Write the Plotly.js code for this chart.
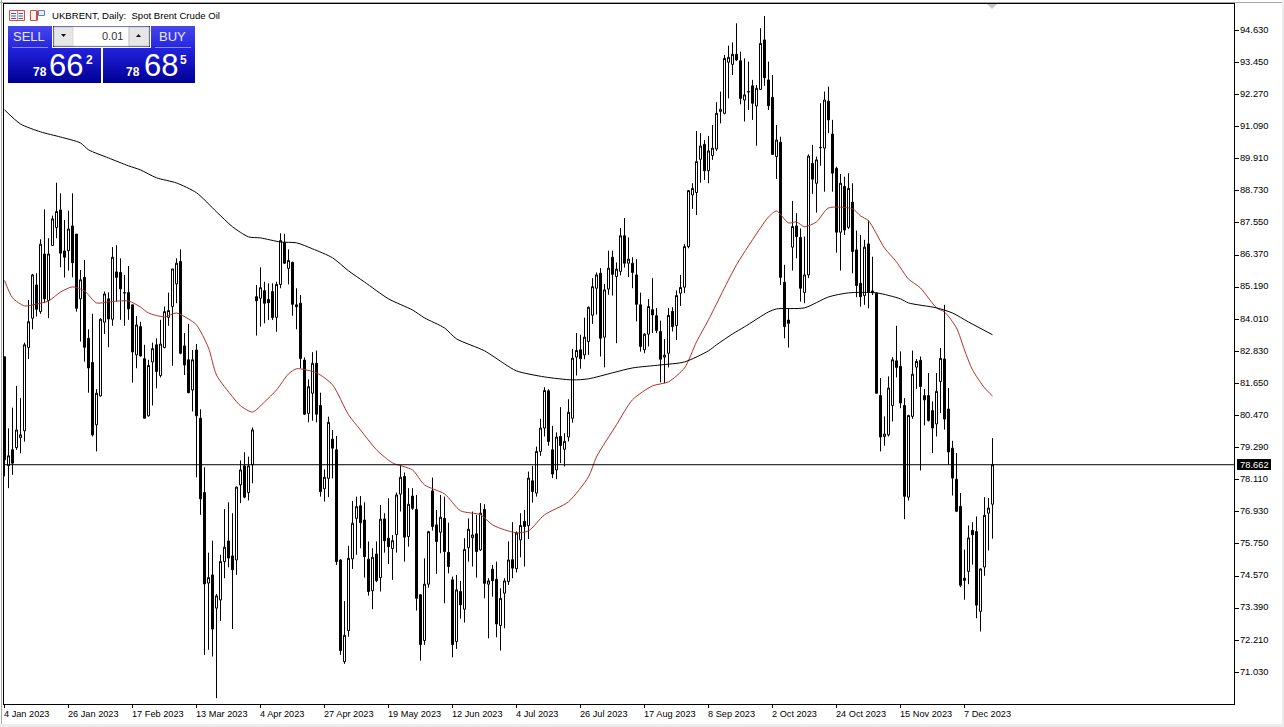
<!DOCTYPE html>
<html>
<head>
<meta charset="utf-8">
<script src="https://cdn.plot.ly/plotly-3.0.1.min.js"></script>
<style>html,body{margin:0;padding:0;background:#fff;overflow:hidden}#c{width:1284px;height:727px}</style>
</head>
<body>
<div id="c"></div>
<script>
const opens=[82.63,78.63,79.21,79.29,79.66,79.91,82.97,84.05,85.27,84.29,86.41,84.70,86.72,87.38,88.03,86.52,86.53,87.44,87.14,84.76,85.55,83.31,82.42,80.13,81.19,83.90,84.76,84.01,85.75,85.73,84.99,84.99,84.54,82.70,83.74,82.56,80.46,82.44,83.07,81.94,82.97,84.08,84.48,85.31,86.13,83.03,82.52,81.41,82.88,80.37,77.64,74.31,74.61,73.39,73.69,75.10,75.86,75.31,75.16,77.92,78.62,77.64,78.66,
84.84,84.78,85.06,84.74,85.03,84.08,85.29,86.83,85.88,86.10,84.54,84.60,82.51,80.55,81.29,82.39,80.84,77.78,78.16,79.60,79.21,75.16,71.42,72.56,75.20,76.69,77.15,76.63,75.19,74.03,75.38,74.51,76.67,75.96,75.58,76.10,77.58,78.23,76.02,77.51,77.02,73.88,72.20,74.27,77.70,76.45,76.18,76.69,75.44,74.43,72.16,74.00,73.35,75.61,75.98,76.12,75.53,77.02,74.27,74.82,74.45,72.75,73.94,74.37,
75.17,74.84,75.90,76.58,76.42,78.07,77.62,79.15,80.01,81.38,79.21,78.47,79.70,79.23,79.68,80.37,82.62,82.89,82.70,83.19,84.16,85.15,85.70,83.35,85.12,86.29,85.58,85.77,87.08,86.07,86.07,85.64,84.54,82.89,83.46,84.36,84.14,83.56,82.62,82.76,84.30,83.78,84.97,85.19,
86.68,88.58,88.67,89.89,90.44,89.47,90.03,90.27,91.65,91.58,93.46,93.38,93.75,93.51,92.07,92.38,92.59,91.85,92.46,94.28,92.81,92.17,89.99,90.52,85.37,83.98,86.66,87.44,87.02,84.99,85.64,89.74,89.01,90.33,90.30,92.03,90.82,89.56,87.21,88.89,87.39,88.31,86.56,85.33,84.88,86.78,85.05,
84.97,81.21,79.70,79.76,80.84,82.48,82.28,80.84,77.47,80.44,82.25,82.50,81.20,81.21,80.65,80.16,81.72,82.55,80.71,79.27,78.13,77.13,74.49,74.74,76.25,76.21,73.27,74.90,76.88,77.21];
const highs=[82.63,80.00,80.76,81.56,81.11,83.15,84.72,85.68,85.70,86.95,88.05,86.99,87.82,89.03,88.64,87.66,88.00,88.64,87.14,85.82,86.19,83.64,84.21,81.44,84.05,85.03,85.00,86.66,86.73,86.25,85.64,85.97,84.54,84.13,83.92,83.07,82.52,83.15,83.31,83.99,84.48,84.99,85.86,86.25,86.58,83.50,83.84,82.88,83.10,80.70,78.57,75.43,75.87,73.91,75.35,77.03,77.28,76.88,77.86,78.82,79.12,78.96,80.03,
85.27,85.92,85.39,85.33,85.33,85.39,87.17,87.15,86.58,86.13,85.15,84.90,82.61,81.80,82.80,82.86,81.31,78.49,80.43,79.94,79.72,75.19,73.65,75.68,77.33,77.49,77.51,77.28,75.84,75.59,75.84,77.18,76.88,77.43,76.08,77.64,78.65,78.38,77.80,77.80,77.55,73.91,75.22,76.23,78.19,77.00,77.55,77.49,76.53,74.55,74.61,74.39,75.96,76.69,76.94,76.82,77.25,77.21,74.49,74.98,75.10,74.12,74.49,75.84,
76.55,76.21,76.88,77.00,78.41,78.62,79.33,80.35,81.51,81.44,80.09,79.85,80.78,79.82,81.07,82.92,83.50,83.44,84.07,84.48,85.52,85.73,85.89,85.31,86.53,86.53,86.10,87.36,87.73,87.02,86.29,86.22,84.99,83.50,84.75,85.52,84.42,83.96,83.28,84.42,84.45,85.07,85.64,86.78,
88.76,89.01,90.93,90.85,90.60,90.75,91.15,91.99,92.38,93.73,94.07,94.19,94.89,93.85,93.60,93.48,92.81,92.62,94.71,95.16,93.48,92.99,91.15,90.72,86.01,84.41,88.36,87.91,87.35,87.05,90.07,90.42,89.99,91.95,92.38,92.56,91.34,89.62,89.35,89.25,89.38,89.01,87.27,87.11,86.93,87.64,86.31,
84.99,81.85,80.44,81.91,82.62,83.77,82.83,81.11,80.50,82.86,82.55,82.64,81.45,82.03,80.99,82.03,82.95,84.54,81.48,79.54,79.09,77.62,75.54,76.43,76.55,76.76,74.86,77.47,77.44,79.64];
const lows=[78.23,77.80,78.29,79.21,79.08,79.51,82.55,83.64,84.11,84.21,84.60,84.05,86.71,86.99,85.92,85.54,85.80,85.55,84.29,83.19,82.45,81.31,79.70,79.15,81.17,83.47,82.98,83.77,84.66,83.99,83.77,83.99,81.68,82.21,82.64,80.37,80.43,80.84,81.47,81.87,82.94,83.77,82.30,84.60,82.72,81.96,81.29,80.62,78.20,76.82,71.67,71.86,71.61,70.08,72.92,74.49,74.89,72.62,74.61,77.25,77.43,77.35,77.98,
83.41,83.74,83.86,83.98,83.98,83.55,85.15,86.04,85.29,84.14,83.64,82.21,80.49,80.22,80.28,80.22,77.49,77.31,77.47,78.16,74.98,71.67,71.34,72.34,74.83,75.35,75.59,74.51,73.85,73.35,74.34,74.00,75.43,75.01,74.43,75.43,76.94,75.10,75.65,77.00,73.30,71.46,72.04,74.14,76.24,74.65,75.41,73.57,74.67,71.58,71.89,73.00,72.86,75.10,74.92,74.51,75.49,73.75,72.28,73.81,72.32,71.83,72.65,74.24,
74.49,74.70,75.26,74.92,75.93,77.27,77.49,78.99,79.70,79.36,78.17,78.13,78.72,78.60,79.52,80.21,81.94,82.19,82.54,82.70,83.84,84.18,82.64,82.24,84.91,84.88,83.13,85.62,85.91,85.56,85.15,83.93,82.82,82.76,83.01,83.50,83.50,81.69,81.66,82.24,83.56,83.25,84.50,84.97,
86.62,88.07,87.84,89.03,89.13,89.01,89.87,90.20,91.21,91.54,92.13,92.99,93.51,91.91,91.28,91.70,91.34,90.39,92.44,92.59,91.70,90.05,89.17,85.27,83.31,82.97,85.80,86.25,84.66,84.60,85.52,88.62,87.93,89.65,88.70,90.85,88.70,86.46,85.80,87.11,87.33,85.70,84.82,84.47,84.54,84.41,84.90,
81.29,79.15,79.36,79.70,80.25,81.87,80.74,76.66,77.35,80.35,81.45,78.45,80.11,80.25,79.09,79.70,80.56,79.95,78.66,77.53,76.92,74.16,73.70,74.27,74.99,73.02,72.53,74.58,75.51,75.94];
const closes=[78.84,78.99,78.72,79.94,79.76,83.07,83.92,85.64,84.38,86.77,84.76,86.41,87.70,87.97,86.44,86.29,87.33,86.09,84.41,85.46,82.98,82.22,79.76,81.29,84.01,84.94,84.02,86.29,85.55,85.13,84.98,84.39,82.81,83.80,82.66,80.37,82.31,82.93,82.09,83.10,84.29,84.33,85.86,86.07,82.76,82.33,81.31,82.52,80.46,77.41,74.28,74.51,72.62,73.84,75.10,75.63,75.23,74.80,77.84,78.47,77.47,78.62,79.94,
84.69,85.17,84.60,84.62,84.07,85.29,86.90,86.07,86.17,84.56,84.47,82.57,80.52,81.53,82.39,80.52,77.67,78.20,80.22,79.27,75.10,71.83,72.39,75.22,76.51,77.12,76.53,75.28,74.00,75.26,74.40,76.66,75.87,75.65,75.87,77.55,78.20,76.00,77.21,77.06,73.75,72.05,74.27,76.20,76.39,75.84,76.73,75.47,74.92,72.05,74.06,73.51,75.55,76.29,76.08,75.47,76.88,74.30,74.39,74.40,72.81,73.75,74.39,75.16,
74.86,76.15,76.43,76.39,78.17,77.68,79.15,80.01,81.39,79.52,78.32,79.68,79.37,79.52,80.59,82.58,82.86,82.56,83.35,84.45,85.21,85.64,83.31,85.09,85.89,85.66,85.85,87.08,86.07,86.22,85.73,84.56,83.01,83.46,84.48,84.17,83.60,82.54,82.69,84.15,83.74,84.88,85.18,86.68,
88.74,88.82,89.81,90.38,89.47,90.20,90.30,91.58,91.73,93.60,93.64,93.75,93.54,92.13,92.26,92.37,91.95,92.50,94.15,92.89,91.86,90.07,90.60,85.55,83.74,83.86,87.42,87.05,85.15,85.64,90.01,89.16,89.87,90.32,92.07,91.34,89.38,87.21,89.01,87.29,88.82,86.50,85.25,84.84,86.66,84.99,84.99,
81.29,79.68,79.79,81.48,82.52,82.24,80.93,77.50,80.47,81.99,82.46,81.54,81.05,80.29,80.01,81.36,82.57,80.34,79.13,78.17,76.95,74.23,74.41,75.97,76.09,73.50,74.83,76.80,77.07,78.66];

const ma50Bars=[0,2,5,8,11,14,17,20,23,26,31,34,36,40,43,46,48,51,53,57,59,62,65,68,71,73,78,82,86,89,93,97,102,105,110,114,119,122,125,128,131,135,141,146,148,153,157,162,166,170,173,176,183,189,191,193,196,198,200,203,206,212,214,216,220,223,226,229,233,235,238,240,242,245,247];
const ma50=[85.44,84.80,84.50,84.57,84.68,85.01,85.20,85.05,84.61,84.65,84.68,84.46,84.24,84.10,84.24,84.02,83.80,82.96,81.96,81.16,80.83,80.60,80.97,81.41,82.00,82.19,82.04,81.60,80.50,79.94,79.21,78.73,78.47,77.92,77.59,76.97,76.82,76.45,76.27,76.16,76.23,76.82,77.30,78.22,78.95,80.13,81.05,81.56,81.71,82.22,83.18,83.99,86.01,87.37,87.77,87.99,87.55,87.59,87.41,87.59,88.10,88.07,87.81,87.63,86.63,86.12,85.49,85.16,84.43,84.28,83.69,82.88,82.15,81.49,81.19];
const ma200Bars=[0,4,9,14,19,21,26,31,34,38,43,48,53,57,61,64,69,73,77,82,86,90,96,102,105,110,113,120,125,128,135,142,146,152,157,164,170,176,178,182,185,191,193,200,206,211,218,224,226,233,237,241,247];
const ma200=[91.71,91.19,90.90,90.71,90.49,90.24,89.94,89.65,89.50,89.21,89.02,88.66,87.96,87.41,87.04,87.00,86.85,86.82,86.60,86.27,85.79,85.38,84.76,84.35,84.06,83.69,83.29,82.85,82.37,82.11,81.89,81.78,81.82,82.04,82.22,82.33,82.44,82.85,83.07,83.47,83.73,84.28,84.39,84.43,84.83,84.98,84.98,84.76,84.61,84.43,84.24,83.91,83.44];

const priceTicks=[71.03,72.21,73.39,74.57,75.75,76.93,78.11,79.29,80.47,81.65,82.83,84.01,85.19,86.37,87.55,88.73,89.91,91.09,92.27,93.45,94.63];
const dateBars=[0,16,32,48,64,80,96,112,128,144,160,176,192,208,224,240];
const dateLabels=['4 Jan 2023','26 Jan 2023','17 Feb 2023','13 Mar 2023','4 Apr 2023','27 Apr 2023','19 May 2023','12 Jun 2023','4 Jul 2023','26 Jul 2023','17 Aug 2023','8 Sep 2023','2 Oct 2023','24 Oct 2023','15 Nov 2023','7 Dec 2023'];
const lastPrice=78.662;

const L=4,T=4,W=1230,H=700;
const px=x=>(x-L)/W, py=y=>1-(y-T)/H;
const FONT='Liberation Sans, Arial, sans-serif';
const NARROW='Liberation Sans Narrow, Liberation Sans, sans-serif';
const shapes=[], ann=[];
function rect(x0,y0,x1,y1,fill,line){shapes.push({type:'rect',xref:'paper',yref:'paper',x0:px(x0),x1:px(x1),y0:py(y0),y1:py(y1),fillcolor:fill,line:line?{color:line,width:1}:{width:0},layer:'above'});}
function hex(n){return Math.round(n).toString(16).padStart(2,'0');}
function grad(x0,y0,x1,y1,a,b){const n=Math.round(y1-y0);for(let i=0;i<n;i++){const t=i/(n-1);const c='#'+hex(a[0]+(b[0]-a[0])*t)+hex(a[1]+(b[1]-a[1])*t)+hex(a[2]+(b[2]-a[2])*t);rect(x0,y0+i,x1,y0+i+1,c);}}
function text(t,x,y,size,color,anchor,fam){ann.push({text:t,xref:'paper',yref:'paper',x:px(x),y:py(y),xanchor:anchor||'left',yanchor:'middle',showarrow:false,borderpad:0,font:{family:fam||FONT,size:size,color:color||'#000'}});}

// outer window edges
rect(0,0,1284,2,'#ffffff');
rect(0,2,1284,3,'#a8a8a8');
rect(1,0,2,727,'#a8a8a8');
rect(1282,0,1284,727,'#ececec');
rect(0,724,1284,727,'#ececec');

// chart-shift marker
shapes.push({type:'path',xref:'paper',yref:'paper',path:`M ${px(987)} ${py(4)} L ${px(997)} ${py(4)} L ${px(992)} ${py(9)} Z`,fillcolor:'#c8c8c8',line:{width:0},layer:'above'});

// last price line
shapes.push({type:'line',xref:'paper',yref:'y',x0:0,x1:1,y0:lastPrice,y1:lastPrice,line:{color:'#000',width:1},layer:'above'});
rect(1237,459,1271,470,'#000000');
text('78.662',1254,464.5,9.4,'#fff','center');

// toolbar icons
rect(9.5,10.5,24.5,20.5,'#fdf3ef','#c8503c');
rect(17,11,17.6,20,'#c8503c');
[13,15.5,18].forEach(y=>{rect(11,y,16,y+1,'#3a5fc0');rect(18.5,y,23,y+1,'#3a5fc0');});
rect(30.5,10.5,36.5,20.5,'#fdf3ef','#c8503c');
rect(38.5,10.5,44.5,15.5,'#e8f0fb','#5a82c8');
rect(37,10.5,38,20.5,'#c8503c');
text('UKBRENT, Daily:  Spot Brent Crude Oil',51,15.5,9.6,'#000');

// trade panel
rect(53,26,150,47,'#1a1a90');
grad(8,26,52,48,[70,70,236],[38,38,222]);
grad(151,26,195,48,[70,70,236],[38,38,222]);
grad(8,48,101,83,[34,34,222],[0,0,148]);
grad(103,48,195,83,[34,34,222],[0,0,148]);
rect(12,47,48,48,'#8a8af0');
rect(155,47,191,48,'#8a8af0');
rect(54,27,73,46,'#e6e6e6','#c4c4c4');
rect(73,27,129,46,'#ffffff','#e0e0e0');
rect(129,27,149,46,'#e6e6e6','#c4c4c4');
shapes.push({type:'path',xref:'paper',yref:'paper',path:`M ${px(61)} ${py(34)} L ${px(66)} ${py(34)} L ${px(63.5)} ${py(37)} Z`,fillcolor:'#111',line:{width:0},layer:'above'});
shapes.push({type:'path',xref:'paper',yref:'paper',path:`M ${px(136)} ${py(37)} L ${px(141)} ${py(37)} L ${px(138.5)} ${py(34)} Z`,fillcolor:'#111',line:{width:0},layer:'above'});
text('SELL',29,36,13,'#e8e8ff','center',NARROW);
text('BUY',172,36,13,'#e8e8ff','center',NARROW);
text('0.01',124,36,11,'#333','right');
text('<b>78</b>',32,72,12,'#fff','left');
text('66',48,65,31,'#fff','left');
text('<b>2</b>',85,60,12,'#fff','left');
text('<b>78</b>',125,72,12,'#fff','left');
text('68',143,65,31,'#fff','left');
text('<b>5</b>',179.5,60,12,'#fff','left');

// date labels
dateBars.forEach((b,i)=>ann.push({text:dateLabels[i],xref:'x',yref:'paper',x:b,y:py(714),xanchor:'left',yanchor:'middle',xshift:-2,showarrow:false,borderpad:0,font:{family:FONT,size:9.2,color:'#000'}}));

const bars=opens.map((_,i)=>i);
const traces=[
 {type:'candlestick',x:bars,open:opens,high:highs,low:lows,close:closes,whiskerwidth:0,
  increasing:{line:{color:'#000',width:1},fillcolor:'#fff'},
  decreasing:{line:{color:'#000',width:1},fillcolor:'#000'},hoverinfo:'skip'},
 {type:'scatter',mode:'lines',x:ma50Bars,y:ma50,line:{color:'#b0302c',width:1,shape:'spline',smoothing:0.7},hoverinfo:'skip'},
 {type:'scatter',mode:'lines',x:ma200Bars,y:ma200,line:{color:'#000',width:1,shape:'spline',smoothing:0.7},hoverinfo:'skip'}
];
const layout={
 width:1284,height:727,margin:{l:L,t:T,r:50,b:23,pad:0},showlegend:false,
 paper_bgcolor:'#fff',plot_bgcolor:'#fff',boxgap:0.5,boxgroupgap:0,hovermode:false,
 xaxis:{type:'linear',range:[-0.125,307.375],rangeslider:{visible:false},showgrid:false,zeroline:false,
  tickmode:'array',tickvals:dateBars,ticktext:dateBars.map(()=>''),ticks:'outside',ticklen:3,tickwidth:1,tickcolor:'#000',
  showline:true,linecolor:'#000',linewidth:1,mirror:true},
 yaxis:{type:'linear',side:'right',range:[69.865,95.60],showgrid:false,zeroline:false,
  tickmode:'array',tickvals:priceTicks,ticktext:priceTicks.map(v=>v.toFixed(3)),ticks:'outside',ticklen:4,tickwidth:1,tickcolor:'#000',
  ticklabelshift:-1,ticklabelstandoff:-1,
  tickfont:{family:FONT,size:9.4,color:'#000'},showline:true,linecolor:'#000',linewidth:1,mirror:true},
 shapes:shapes,annotations:ann
};
Plotly.newPlot('c',traces,layout,{staticPlot:true,displayModeBar:false});
</script>
</body>
</html>
